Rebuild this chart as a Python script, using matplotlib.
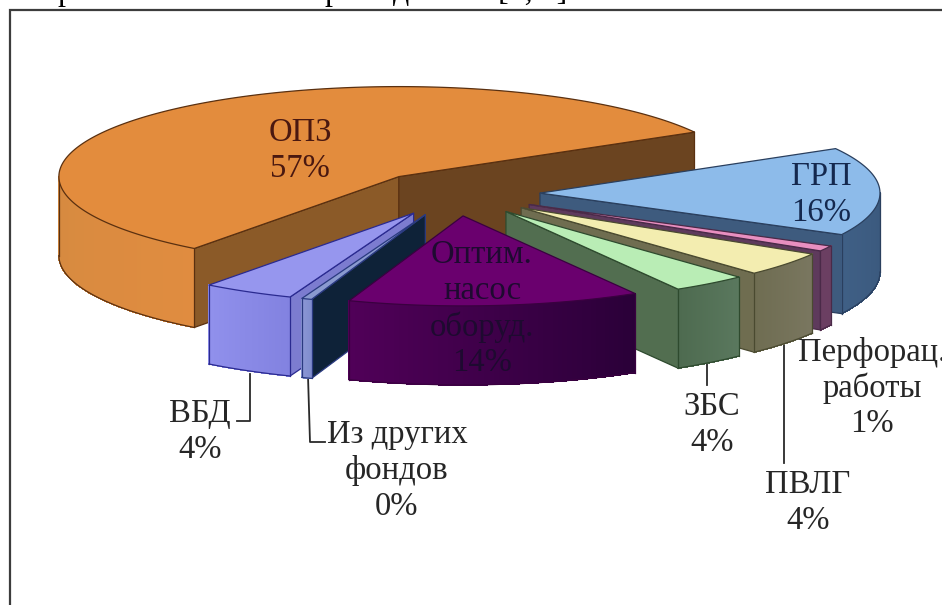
import numpy as np
import matplotlib
matplotlib.use("Agg")
import matplotlib.pyplot as plt
from matplotlib.collections import PolyCollection
from matplotlib.colors import to_rgb
from matplotlib.patches import Polygon

# Shares of the well-work types, percent
categories = ["ОПЗ", "ГРП", "Перфорац.\nработы", "ПВЛГ", "ЗБС",
              "Оптим.\nнасос\nоборуд.", "Из других\nфондов", "ВБД"]
values = [57, 16, 1, 4.4, 3.6, 14, 0.49, 4.4]

top_colors = ["#E38C3D", "#8DBBEA", "#E88FC0", "#F3EDB0", "#B9EDB5",
              "#6A006E", "#8A9ACF", "#9696EE"]
edge_colors = ["#5A3010", "#2A3F5E", "#4A2A48", "#4A4A30", "#2E4A2E",
               "#3A0040", "#2A3A80", "#2A2A90"]
# rim shading, left and right end of the visible outer wall
rim_left = ["#D58A40", "#3F5F85", "#6B3F62", "#6F6D52", "#4E6B50",
            "#500058", "#8A96D5", "#9090EC"]
rim_right = ["#E08C40", "#3A587C", "#6B3F62", "#7A7760", "#5A785E",
             "#2A0038", "#7F8CCC", "#8282E0"]
start_wall = ["#8B5A28", "#3E5B7E", "#5E3A5C", "#6F6D50", "#526E50",
              "#3A0040", "#0E2238", "#7C7CD0"]
end_wall = ["#6B4420", "#3E5B7E", "#5E3A5C", "#6F6D50", "#526E50",
            "#3A0040", "#7C88C8", "#7C7CD0"]
# painter's order, back to front
draw_order = [0, 1, 2, 3, 4, 7, 6, 5]

# Projection of the tilted pie
CENTER_X, CENTER_Y = 455.0, 193.5
RADIUS_X, RADIUS_Y = 340.0, 90.0
DEPTH = 79.0
EXPLODE = 0.25
START_ANGLE = 217.0


def project(theta, radius=1.0):
    """Clockwise angle from 12 o'clock to page position on the top plane."""
    t = np.radians(theta)
    return (RADIUS_X * radius * np.sin(t), -RADIUS_Y * radius * np.cos(t))


fig = plt.figure(figsize=(9.42, 6.05), dpi=100, facecolor="white")
ax = fig.add_axes([0, 0, 1, 1])
ax.set_xlim(0, 942)
ax.set_ylim(605, 0)
ax.axis("off")
plt.rcParams["font.family"] = ["Liberation Serif", "DejaVu Serif"]

# Worksheet frame: only the top and left rules fall inside the crop
ax.plot([942, 9.5, 9.5], [10, 10, 605], color="#3C3C3C", lw=1.6, zorder=1,
        solid_joinstyle="miter")

spans = np.array(values, dtype=float) / sum(values) * 360.0
starts = START_ANGLE + np.concatenate([[0.0], np.cumsum(spans)[:-1]])

for i in draw_order:
    a0, a1 = starts[i], starts[i] + spans[i]
    mid = (a0 + a1) / 2
    ox, oy = project(mid, EXPLODE)
    cx, cy = CENTER_X + ox, CENTER_Y + oy
    z = 3 + draw_order.index(i)
    edge = edge_colors[i]

    thetas = np.linspace(a0, a1, max(int(spans[i] * 2), 6))
    rx, ry = project(thetas)
    arc = np.column_stack([cx + rx, cy + ry])

    # cut faces that look towards the viewer
    for angle, visible, col in ((a0, np.sin(np.radians(a0)) < 0, start_wall[i]),
                                (a1, np.sin(np.radians(a1)) > 0, end_wall[i])):
        if visible:
            wx, wy = project(angle)
            ax.add_patch(Polygon([(cx, cy), (cx + wx, cy + wy),
                                  (cx + wx, cy + wy + DEPTH), (cx, cy + DEPTH)],
                                 closed=True, facecolor=col, edgecolor=edge,
                                 lw=0.9, zorder=z))

    # outer rim, front half of the ellipse only
    rim_t = []
    for k in (0, 1):
        l = max(a0, 90 + 360 * k)
        h = min(a1, 270 + 360 * k)
        if l < h:
            rim_t = np.linspace(l, h, 60)
    if len(rim_t):
        px, py = project(rim_t)
        xs, ys = cx + px, cy + py
        c0, c1 = np.array(to_rgb(rim_right[i])), np.array(to_rgb(rim_left[i]))
        quads, cols = [], []
        for j in range(len(xs) - 1):
            quads.append([(xs[j], ys[j]), (xs[j + 1], ys[j + 1]),
                          (xs[j + 1], ys[j + 1] + DEPTH), (xs[j], ys[j] + DEPTH)])
            f = j / (len(xs) - 2)
            cols.append(tuple(c0 + (c1 - c0) * f))
        ax.add_collection(PolyCollection(quads, facecolors=cols, edgecolors=cols,
                                         linewidths=0.5, antialiaseds=False,
                                         zorder=z))
        ax.plot(xs, ys + DEPTH, color=edge, lw=0.9, zorder=z)
        ax.plot([xs[0], xs[0]], [ys[0], ys[0] + DEPTH], color=edge, lw=0.9, zorder=z)
        ax.plot([xs[-1], xs[-1]], [ys[-1], ys[-1] + DEPTH], color=edge, lw=0.9, zorder=z)

    # top face
    ax.add_patch(Polygon(np.vstack([[cx, cy], arc]), closed=True,
                         facecolor=top_colors[i], edgecolor=edge, lw=0.9,
                         joinstyle="round", zorder=z + 0.1))

# Data labels
label_pos = [(300, 133), (821, 177), (872, 352), (808, 485), (712, 407),
             (482, 255), (397, 435), (200, 414)]
label_color = ["#4A1810", "#14284E", "#262626", "#262626", "#262626",
               "#1E0A30", "#262626", "#262626"]
LINE_STEP = 36
for i, name in enumerate(categories):
    lines = name.split("\n") + [f"{values[i]:.0f}%"]
    x, y = label_pos[i]
    for k, line in enumerate(lines):
        ax.text(x, y + k * LINE_STEP, line, ha="center", va="center",
                fontsize=23.5, color=label_color[i], zorder=20, clip_on=True)

# Leader lines
leaders = [([250, 250, 237], [374, 421, 421]),
           ([308, 310, 325], [376, 442, 442]),
           ([707, 707], [360, 385]),
           ([784, 784], [343, 463])]
for xs, ys in leaders:
    ax.plot(xs, ys, color="#2A2A2A", lw=1.3, zorder=2)

# Last line of the running text above the figure, cut by the page crop
for x, s in [(65, "р"), (332, "р"), (401, "д"), (533, "[5, 6]")]:
    ax.text(x, 0, s, ha="center", va="baseline", fontsize=23, color="black",
            clip_on=True, zorder=20)

fig.savefig("out.png", dpi=100)
